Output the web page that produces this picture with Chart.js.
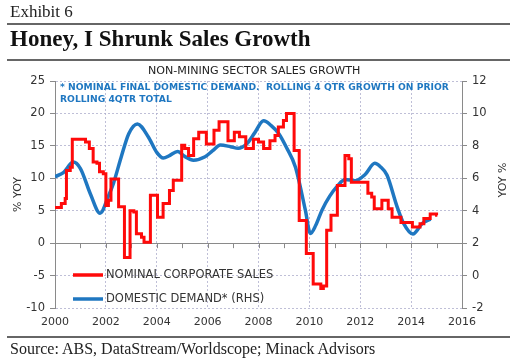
<!DOCTYPE html>
<html>
<head>
<meta charset="utf-8">
<script src="https://cdn.jsdelivr.net/npm/chart.js@4"></script>
<style>
    body { margin: 0; background: #fff; }
    #wrap { position: relative; width: 517px; height: 362px; overflow: hidden; }
    #chart { position: absolute; left: 0; top: 0; }
    .txt { position: absolute; white-space: nowrap; color: #222; }
    .rule { position: absolute; left: 7px; width: 503px; height: 0; border-top: 2px solid #666; }
    #exhibit { left: 10px; top: 2px; font: 17px 'Liberation Serif', serif; }
    #headline { left: 10px; top: 26px; font: bold 23px 'Liberation Serif', serif; color: #111; }
    #subtitle { left: 0; width: 517px; top: 64px; font: 11.1px 'DejaVu Sans', sans-serif; }
    #source { left: 10px; top: 340px; font: 16px 'Liberation Serif', serif; }
</style>
</head>
<body>
<div id="wrap">
    <canvas id="chart" width="517" height="362"></canvas>
    <div class="txt" id="exhibit">Exhibit 6</div>
    <div class="rule" style="top:23px"></div>
    <div class="txt" id="headline">Honey, I Shrunk Sales Growth</div>
    <div class="rule" style="top:59px"></div>
    <div class="txt" id="subtitle"><div style="position:absolute;left:148px">NON-MINING SECTOR SALES GROWTH</div></div>
    <div class="rule" style="top:336px"></div>
    <div class="txt" id="source">Source: ABS, DataStream/Worldscope; Minack Advisors</div>
</div>
<script>
// 數據：名目企業銷售（左軸，階梯線）
const salesYears = [
    2000.0, 2000.25, 2000.4, 2000.45, 2000.6, 2000.68, 2001.2, 2001.35, 2001.5, 2001.65,
    2001.75, 2001.9, 2002.0, 2002.1, 2002.2, 2002.5, 2002.73, 2002.95, 2003.1, 2003.2,
    2003.4, 2003.5, 2003.75, 2004.03, 2004.25, 2004.5, 2004.65, 2004.98, 2005.1, 2005.25,
    2005.45, 2005.65, 2005.95, 2006.25, 2006.45, 2006.8, 2007.05, 2007.25, 2007.5, 2007.8,
    2008.0, 2008.2, 2008.45, 2008.65, 2008.78, 2008.98, 2009.1, 2009.4, 2009.6, 2009.88,
    2010.15, 2010.45, 2010.55, 2010.68, 2010.85, 2011.1, 2011.4, 2011.55, 2011.65, 2012.3,
    2012.45, 2012.55, 2012.85, 2013.1, 2013.25, 2013.6, 2014.05, 2014.35, 2014.5, 2014.75,
    2015.0, 2015.03
];
const salesValues = [
    5.5, 6.1, 6.9, 11.2, 11.7, 16.0, 15.6, 14.6, 12.5, 12.3,
    11.0, 10.7, 5.8, 6.6, 9.9, 5.6, -2.2, 5.0, 4.8, 1.45,
    0.9, 0.15, 7.4, 4.0, 6.1, 8.1, 9.7, 15.1, 14.6, 13.5,
    16.1, 17.1, 15.3, 17.4, 18.7, 15.8, 17.1, 16.4, 14.6, 16.0,
    15.6, 14.6, 15.8, 16.6, 17.9, 18.9, 20.0, 14.3, 3.5, -1.6,
    -6.3, -7.0, -6.6, 2.0, 4.3, 8.9, 13.5, 13.0, 9.4, 7.7,
    7.1, 5.3, 6.6, 5.3, 4.0, 3.2, 2.5, 3.0, 3.8, 4.5,
    4.3, 4.3
];

// 數據：國內需求（右軸，平滑線）
const demandYears = [
    2000.0, 2000.33, 2000.72, 2001.0, 2001.4, 2001.77, 2002.1, 2002.3, 2002.6, 2002.9,
    2003.24, 2003.67, 2004.0, 2004.26, 2004.5, 2004.82, 2005.1, 2005.44, 2005.9, 2006.2,
    2006.5, 2006.9, 2007.2, 2007.55, 2007.85, 2008.2, 2008.5, 2008.8, 2009.1, 2009.45,
    2009.84, 2010.04, 2010.25, 2010.5, 2010.8, 2011.09, 2011.4, 2011.8, 2012.2, 2012.57,
    2012.8, 2013.05, 2013.45, 2013.71, 2014.07, 2014.43, 2014.76
];
const demandValues = [
    6.1, 6.35, 7.0, 6.6, 5.0, 3.85, 4.9, 5.7, 7.3, 8.75,
    9.35, 8.55, 7.6, 7.25, 7.4, 7.65, 7.35, 7.12, 7.33, 7.7,
    8.05, 7.95, 7.85, 8.15, 8.8, 9.55, 9.25, 8.75, 7.9, 6.7,
    4.05, 2.6, 3.1, 4.05, 4.9, 5.5, 5.93, 5.85, 6.25, 6.92,
    6.7, 6.2, 4.24, 3.2, 2.56, 3.2, 3.48
];

const seriesLabels = ['NOMINAL CORPORATE SALES', 'DOMESTIC DEMAND* (RHS)'];
const noteLines = [
    '* NOMINAL FINAL DOMESTIC DEMAND.  ROLLING 4 QTR GROWTH ON PRIOR',
    'ROLLING 4QTR TOTAL'
];
const rightTitle = 'YOY %';

const RED = '#ff0a0a';
const BLUE = '#1f77c1';
const GRID = 'rgba(175, 175, 205, 0.8)';
const AXIS = '#8a8a8a';
const FONT = "'DejaVu Sans', Verdana, sans-serif";

// 零線上的年度小刻度
const zeroTicks = {
    id: 'zeroTicks',
    beforeDatasetsDraw(chart) {
        const { ctx, scales: { x, y } } = chart;
        const y0 = y.getPixelForValue(0);
        ctx.save();
        ctx.strokeStyle = AXIS;
        ctx.lineWidth = 1;
        ctx.beginPath();
        for (let yr = x.min; yr <= x.max; yr++) {
            const px = Math.round(x.getPixelForValue(yr)) + 0.5;
            ctx.moveTo(px, y0);
            ctx.lineTo(px, y0 + 5);
        }
        ctx.stroke();
        ctx.restore();
    }
};

// 註解文字、圖例與右軸標題
const notesAndLegend = {
    id: 'notesAndLegend',
    afterDraw(chart) {
        const { ctx, chartArea } = chart;
        ctx.save();
        ctx.fillStyle = BLUE;
        ctx.font = `bold 9.2px ${FONT}`;
        ctx.textBaseline = 'middle';
        noteLines.forEach((t, i) => ctx.fillText(t, chartArea.left + 5, chartArea.top + 7 + i * 12));

        ctx.font = `11.5px ${FONT}`;
        chart.data.datasets.forEach((ds, i) => {
            const yy = chartArea.bottom - 33 + i * 24;
            ctx.strokeStyle = ds.borderColor;
            ctx.lineWidth = 3.5;
            ctx.beginPath();
            ctx.moveTo(chartArea.left + 18, yy);
            ctx.lineTo(chartArea.left + 48, yy);
            ctx.stroke();
            ctx.fillStyle = '#333';
            ctx.fillText(ds.label, chartArea.left + 51, yy);
        });

        // 右軸標題（由下往上讀）
        ctx.font = `11px ${FONT}`;
        ctx.fillStyle = '#333';
        ctx.textAlign = 'center';
        ctx.translate(chartArea.right + 41, chartArea.top + 99);
        ctx.rotate(-Math.PI / 2);
        ctx.fillText(rightTitle, 0, 0);
        ctx.restore();
    }
};

new Chart(document.getElementById('chart'), {
    type: 'line',
    data: {
        datasets: [
            {
                label: seriesLabels[0],
                data: salesYears.map((x, i) => ({ x, y: salesValues[i] })),
                yAxisID: 'y',
                borderColor: RED,
                borderWidth: 3,
                stepped: true,
                pointRadius: 0
            },
            {
                label: seriesLabels[1],
                data: demandYears.map((x, i) => ({ x, y: demandValues[i] })),
                yAxisID: 'y1',
                borderColor: BLUE,
                borderWidth: 3.5,
                cubicInterpolationMode: 'monotone',
                pointRadius: 0
            }
        ]
    },
    options: {
        responsive: false,
        devicePixelRatio: 1,
        animation: false,
        layout: { padding: { top: 81, left: 0, right: 0, bottom: 0 } },
        plugins: { legend: { display: false }, tooltip: { enabled: false } },
        scales: {
            x: {
                type: 'linear',
                min: 2000,
                max: 2016,
                afterFit: s => { s.height = 54; },
                ticks: {
                    stepSize: 2,
                    padding: 8,
                    color: '#333',
                    font: { family: FONT, size: 11 },
                    maxRotation: 0,
                    callback: v => String(v)
                },
                grid: { color: GRID, drawTicks: false },
                border: { display: false, dash: [2, 2] }
            },
            y: {
                position: 'left',
                min: -10,
                max: 25,
                afterFit: s => { s.width = 55; },
                ticks: { stepSize: 5, padding: 5, color: '#333', font: { family: FONT, size: 11.5 } },
                grid: {
                    color: c => (c.tick && c.tick.value === 0 ? AXIS : GRID),
                    tickColor: AXIS,
                    tickLength: 5
                },
                border: {
                    color: AXIS,
                    dash: c => (c.tick && c.tick.value === 0 ? [] : [2, 2])
                },
                title: {
                    display: true,
                    text: '% YOY',
                    color: '#333',
                    font: { family: FONT, size: 11 },
                    padding: { top: 12, bottom: 0 }
                }
            },
            y1: {
                position: 'right',
                min: -2,
                max: 12,
                afterFit: s => { s.width = 55; },
                ticks: { stepSize: 2, padding: 5, color: '#333', font: { family: FONT, size: 11.5 } },
                grid: { drawOnChartArea: false, tickColor: AXIS, tickLength: 5 },
                border: { color: AXIS }
            }
        }
    },
    plugins: [zeroTicks, notesAndLegend]
});
</script>
</body>
</html>
